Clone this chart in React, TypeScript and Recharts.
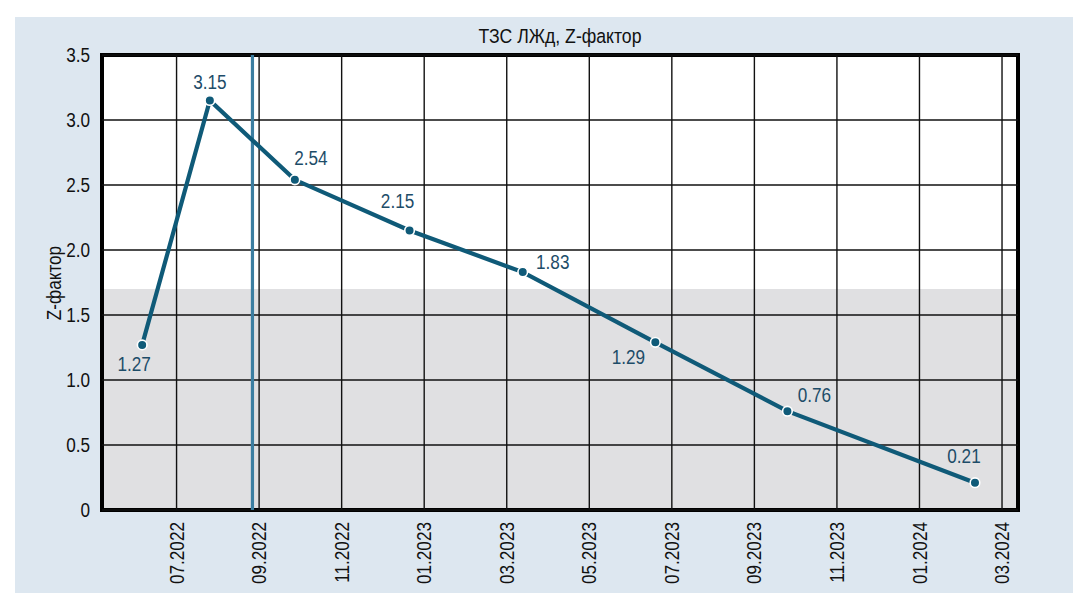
import React from "react"
import { LineChart, Line, XAxis, YAxis, ReferenceArea, ReferenceLine, LabelList } from "recharts"

// даты замеров и значения Z-фактора
const measureDates = [
  "2022-06-06",
  "2022-07-26",
  "2022-09-27",
  "2022-12-21",
  "2023-03-13",
  "2023-06-19",
  "2023-09-25",
  "2024-02-11",
]
const zFactor = [1.27, 3.15, 2.54, 2.15, 1.83, 1.29, 0.76, 0.21]

const xTickLabels = [
  "07.2022",
  "09.2022",
  "11.2022",
  "01.2023",
  "03.2023",
  "05.2023",
  "07.2023",
  "09.2023",
  "11.2023",
  "01.2024",
  "03.2024",
]
const yTicks = [0, 0.5, 1, 1.5, 2, 2.5, 3, 3.5]

const markerDate = "2022-08-27"
const axisStart = "2022-05-07"
const axisEnd = "2024-03-13"
const grayLimit = 1.7

// смещения подписей относительно точек (dx, dy)
const labelNudge = [
  [-8, 19],
  [0, -19],
  [16, -22],
  [-12, -30],
  [30, -10],
  [-27, 15],
  [27, -16],
  [-11, -27],
]

const FONT = '"Liberation Sans", Arial, sans-serif'
const NARROW = 0.88
const LINE = "#0f5a78"
const LABEL = "#1d4c68"

// месяцы от 07.2022 (дробные)
const monthIndex = (iso: string) => {
  const [y, m, d] = iso.split("-").map(Number)
  const days = new Date(y, m, 0).getDate()
  return (y - 2022) * 12 + (m - 7) + (d - 1) / days
}
const tickIndex = (label: string) => {
  const [m, y] = label.split(".").map(Number)
  return (y - 2022) * 12 + (m - 7)
}

const data = measureDates.map((d, i) => ({ m: monthIndex(d), z: zFactor[i] }))
const xTicks = xTickLabels.map(tickIndex)
const xMin = monthIndex(axisStart)
const xMax = monthIndex(axisEnd)

const Dot = (props: any) => {
  const { cx, cy } = props
  if (cx == null || cy == null) return null
  return <circle cx={cx} cy={cy} r={4.8} fill={LINE} stroke="#fff" strokeWidth={1.6} />
}

const PointLabel = (props: any) => {
  const { x, y, value, index } = props
  const [dx, dy] = labelNudge[index] ?? [0, -18]
  return (
    <g transform={`translate(${x + dx},${y + dy}) scale(${NARROW},1)`}>
      <text x={0} y={0} dy="0.36em" textAnchor="middle" fill={LABEL} fontSize={19.5} fontFamily={FONT}>
        {Number(value).toFixed(2)}
      </text>
    </g>
  )
}

const XTick = (props: any) => {
  const { x, y, payload } = props
  const idx = xTicks.indexOf(payload.value)
  return (
    <g transform={`translate(${x},${y}) rotate(-90) scale(${NARROW},1)`}>
      <text x={0} y={0} dy="0.36em" textAnchor="end" fill="#111" fontSize={19.5} fontFamily={FONT}>
        {xTickLabels[idx]}
      </text>
    </g>
  )
}

const YTick = (props: any) => {
  const { x, y, payload } = props
  const v = payload.value as number
  return (
    <g transform={`translate(${x},${y}) scale(${NARROW},1)`}>
      <text x={0} y={0} dy="0.36em" textAnchor="end" fill="#111" fontSize={19.5} fontFamily={FONT}>
        {v === 0 ? "0" : v.toFixed(1)}
      </text>
    </g>
  )
}

export default function App() {
  return (
    <div style={{ position: "absolute", left: 0, top: 0, width: 1079, height: 604, background: "#fff", overflow: "hidden" }}>
      <div style={{ position: "absolute", left: 15, top: 17, width: 1058, height: 576, background: "#dde7f0" }} />
      <div
        style={{
          position: "absolute",
          left: 560,
          top: 36,
          transform: `translate(-50%, -50%) scaleX(0.86)`,
          whiteSpace: "nowrap",
          fontFamily: FONT,
          fontSize: 20.5,
          color: "#111",
        }}
      >
        ТЗС ЛЖд, Z-фактор
      </div>
      <div
        style={{
          position: "absolute",
          left: 54,
          top: 283,
          transform: `translate(-50%, -50%) rotate(-90deg) scaleX(${NARROW})`,
          whiteSpace: "nowrap",
          fontFamily: FONT,
          fontSize: 19.5,
          color: "#111",
        }}
      >
        Z-фактор
      </div>
      <div style={{ position: "absolute", left: 0, top: 0 }}>
        <LineChart width={1079} height={604} data={data} margin={{ top: 55, right: 61, bottom: 14, left: 42 }}>
          <XAxis
            type="number"
            dataKey="m"
            domain={[xMin, xMax]}
            ticks={xTicks}
            interval={0}
            height={80}
            axisLine={false}
            tickLine={false}
            tick={<XTick />}
            tickMargin={6}
            allowDataOverflow
          />
          <YAxis
            type="number"
            domain={[0, 3.5]}
            ticks={yTicks}
            interval={0}
            width={60}
            axisLine={false}
            tickLine={false}
            tickMargin={6}
            tick={<YTick />}
          />
          <ReferenceArea x1={xMin} x2={xMax} y1={grayLimit} y2={3.5} fill="#ffffff" fillOpacity={1} stroke="none" />
          <ReferenceArea x1={xMin} x2={xMax} y1={0} y2={grayLimit} fill="#e0e0e2" fillOpacity={1} stroke="none" />
          {/* сетка поверх фона */}
          {xTicks.map((t) => (
            <ReferenceLine key={`gx-${t}`} x={t} stroke="#111" strokeWidth={1.4} />
          ))}
          {yTicks.map((t) => (
            <ReferenceLine key={`gy-${t}`} y={t} stroke="#111" strokeWidth={1.4} />
          ))}
          <ReferenceLine x={monthIndex(markerDate)} stroke="#3b7ea1" strokeWidth={3.2} />
          <ReferenceArea x1={xMin} x2={xMax} y1={0} y2={3.5} fill="none" stroke="#000" strokeWidth={4} />
          <Line
            type="linear"
            dataKey="z"
            stroke={LINE}
            strokeWidth={4.2}
            dot={<Dot />}
            activeDot={false}
            isAnimationActive={false}
          >
            <LabelList dataKey="z" content={<PointLabel />} />
          </Line>
        </LineChart>
      </div>
    </div>
  )
}
